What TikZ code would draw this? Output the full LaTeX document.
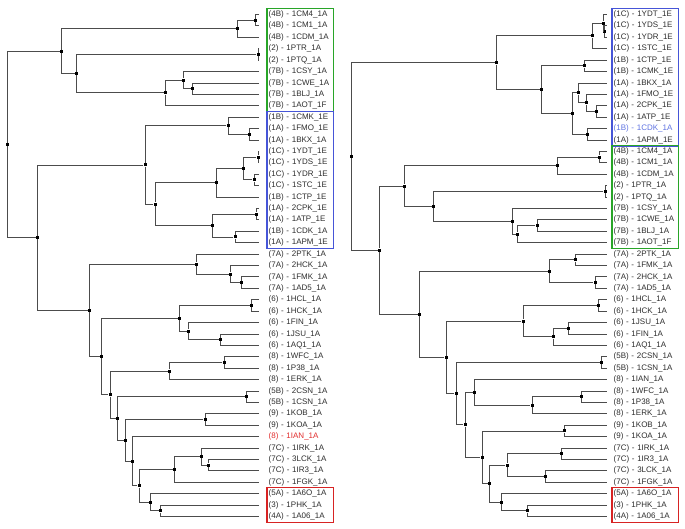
\documentclass[tikz,border=0pt]{standalone}
\usepackage{fontspec}
\setmainfont{Liberation Sans}
\usetikzlibrary{calc,fit}

\definecolor{txt}{RGB}{45,45,45}
\definecolor{hired}{RGB}{225,45,45}
\definecolor{hiblue}{RGB}{95,115,225}
\definecolor{boxgreen}{RGB}{40,165,40}
\definecolor{boxblue}{RGB}{70,85,215}
\definecolor{boxred}{RGB}{215,35,35}

\tikzset{
  leaf/.style={anchor=west, font=\fontsize{8}{9}\selectfont, inner xsep=1.5pt,
               inner ysep=0pt, minimum height=11.41pt, text width=63pt, align=left},
  jn/.style={rectangle, fill=black, inner sep=0pt, minimum size=3pt},
  branch/.style={black!70, line width=0.9pt},
  groupbox/.style={draw=#1, line width=1.3pt, inner sep=0pt}
}

% joins two children at depth x, halfway between them
\newcommand{\clade}[4]{
  \path let \p1=($(#3)!.5!(#4)$) in node[jn] (#1) at (#2,\y1) {};
  \draw[branch] (#3) -| (#1) |- (#4);
}

\begin{document}
\begin{tikzpicture}[x=1pt,y=-1pt]
\useasboundingbox (0,0) rectangle (685,529);

% Left tree leaves
\foreach \grp/\pdb/\tc [count=\i] in {4B/1CM4\_1A/txt, 4B/1CM1\_1A/txt, 4B/1CDM\_1A/txt,
  2/1PTR\_1A/txt, 2/1PTQ\_1A/txt, 7B/1CSY\_1A/txt, 7B/1CWE\_1A/txt, 7B/1BLJ\_1A/txt,
  7B/1AOT\_1F/txt, 1B/1CMK\_1E/txt, 1A/1FMO\_1E/txt, 1A/1BKX\_1A/txt, 1C/1YDT\_1E/txt,
  1C/1YDS\_1E/txt, 1C/1YDR\_1E/txt, 1C/1STC\_1E/txt, 1B/1CTP\_1E/txt, 1A/2CPK\_1E/txt,
  1A/1ATP\_1E/txt, 1B/1CDK\_1A/txt, 1A/1APM\_1E/txt, 7A/2PTK\_1A/txt, 7A/2HCK\_1A/txt,
  7A/1FMK\_1A/txt, 7A/1AD5\_1A/txt, 6/1HCL\_1A/txt, 6/1HCK\_1A/txt, 6/1FIN\_1A/txt,
  6/1JSU\_1A/txt, 6/1AQ1\_1A/txt, 8/1WFC\_1A/txt, 8/1P38\_1A/txt, 8/1ERK\_1A/txt,
  5B/2CSN\_1A/txt, 5B/1CSN\_1A/txt, 9/1KOB\_1A/txt, 9/1KOA\_1A/txt, 8/1IAN\_1A/hired,
  7C/1IRK\_1A/txt, 7C/3LCK\_1A/txt, 7C/1IR3\_1A/txt, 7C/1FGK\_1A/txt, 5A/1A6O\_1A/txt,
  3/1PHK\_1A/txt, 4A/1A06\_1A/txt}{
  \coordinate (tl\i) at (259,{14.5+(\i-1)*11.41});
  \node[leaf, text=\tc] (xl\i) at (267,{14.5+(\i-1)*11.41}) {(\grp) - \pdb};
}

% Right tree leaves
\foreach \grp/\pdb/\tc [count=\i] in {1C/1YDT\_1E/txt, 1C/1YDS\_1E/txt, 1C/1YDR\_1E/txt,
  1C/1STC\_1E/txt, 1B/1CTP\_1E/txt, 1B/1CMK\_1E/txt, 1A/1BKX\_1A/txt, 1A/1FMO\_1E/txt,
  1A/2CPK\_1E/txt, 1A/1ATP\_1E/txt, 1B/1CDK\_1A/hiblue, 1A/1APM\_1E/txt, 4B/1CM4\_1A/txt,
  4B/1CM1\_1A/txt, 4B/1CDM\_1A/txt, 2/1PTR\_1A/txt, 2/1PTQ\_1A/txt, 7B/1CSY\_1A/txt,
  7B/1CWE\_1A/txt, 7B/1BLJ\_1A/txt, 7B/1AOT\_1F/txt, 7A/2PTK\_1A/txt, 7A/1FMK\_1A/txt,
  7A/2HCK\_1A/txt, 7A/1AD5\_1A/txt, 6/1HCL\_1A/txt, 6/1HCK\_1A/txt, 6/1JSU\_1A/txt,
  6/1FIN\_1A/txt, 6/1AQ1\_1A/txt, 5B/2CSN\_1A/txt, 5B/1CSN\_1A/txt, 8/1IAN\_1A/txt,
  8/1WFC\_1A/txt, 8/1P38\_1A/txt, 8/1ERK\_1A/txt, 9/1KOB\_1A/txt, 9/1KOA\_1A/txt,
  7C/1IRK\_1A/txt, 7C/1IR3\_1A/txt, 7C/3LCK\_1A/txt, 7C/1FGK\_1A/txt, 5A/1A6O\_1A/txt,
  3/1PHK\_1A/txt, 4A/1A06\_1A/txt}{
  \coordinate (tr\i) at (606.7,{14.5+(\i-1)*11.41});
  \node[leaf, text=\tc] (xr\i) at (612,{14.5+(\i-1)*11.41}) {(\grp) - \pdb};
}

% Left tree: green group
\clade{lg1}{255.3}{tl1}{tl2}
\clade{lg2}{237.7}{lg1}{tl3}
\clade{lg3}{258}{tl4}{tl5}
\clade{lg4}{192.7}{tl7}{tl8}
\clade{lg5}{183.7}{tl6}{lg4}
\clade{lg6}{165.3}{lg5}{tl9}
\clade{lg7}{76.3}{lg3}{lg6}
\clade{lg8}{61.7}{lg2}{lg7}

% Left tree: blue group
\clade{lb1}{249.3}{tl11}{tl12}
\clade{lb2}{228}{tl10}{lb1}
\clade{lb3}{258}{tl13}{tl14}
\clade{lb4}{254}{tl15}{tl16}
\clade{lb5}{243.7}{lb3}{lb4}
\clade{lb6}{216.7}{lb5}{tl17}
\clade{lb7}{256.7}{tl18}{tl19}
\clade{lb8}{235}{tl20}{tl21}
\clade{lb9}{212.7}{lb7}{lb8}
\clade{lb10}{155}{lb6}{lb9}
\clade{lb11}{145}{lb2}{lb10}

% Left tree: the rest
\clade{la1}{241.3}{tl24}{tl25}
\clade{la2}{230.7}{tl23}{la1}
\clade{la3}{196.7}{tl22}{la2}
\clade{ls1}{251.7}{tl26}{tl27}
\clade{ls2}{220.3}{tl29}{tl30}
\clade{ls3}{188.3}{tl28}{ls2}
\clade{ls4}{179.3}{ls1}{ls3}
\clade{le1}{224}{tl31}{tl32}
\clade{le2}{169.3}{le1}{tl33}
\clade{lc1}{246.7}{tl34}{tl35}
\clade{lk1}{205}{tl36}{tl37}
\clade{lm1}{208.7}{tl40}{tl41}
\clade{lm2}{201.3}{tl39}{lm1}
\clade{lm3}{174.7}{lm2}{tl42}
\clade{lh1}{160.3}{tl44}{tl45}
\clade{lh2}{150.3}{tl43}{lh1}
\clade{lq1}{139}{lm3}{lh2}
\clade{lq2}{132.3}{tl38}{lq1}
\clade{lq3}{125.3}{lk1}{lq2}
\clade{lq4}{117.7}{lc1}{lq3}
\clade{lq5}{110}{le2}{lq4}
\clade{lq6}{101.7}{ls4}{lq5}
\clade{lq7}{89.3}{la3}{lq6}
\clade{lroot2}{37.3}{lb11}{lq7}
\clade{lroot}{7.3}{lg8}{lroot2}

% Right tree: blue group
\clade{rb1}{604.3}{tr2}{tr3}
\clade{rb2}{603.3}{tr1}{rb1}
\clade{rb3}{592.3}{rb2}{tr4}
\clade{rb4}{584.3}{tr5}{tr6}
\clade{rb5}{596.7}{tr9}{tr10}
\clade{rb6}{586.7}{tr8}{rb5}
\clade{rb7}{578.3}{tr7}{rb6}
\clade{rb8}{587.3}{tr11}{tr12}
\clade{rb9}{572.3}{rb7}{rb8}
\clade{rb10}{541.3}{rb4}{rb9}
\clade{rb11}{496.3}{rb3}{rb10}

% Right tree: green group
\clade{rg1}{599.7}{tr13}{tr14}
\clade{rg2}{557.7}{rg1}{tr15}
\clade{rg3}{605}{tr16}{tr17}
\clade{rg4}{537}{tr19}{tr20}
\clade{rg5}{517.7}{rg4}{tr21}
\clade{rg6}{512.3}{tr18}{rg5}
\clade{rg7}{433.7}{rg3}{rg6}
\clade{rg8}{404.3}{rg2}{rg7}

% Right tree: the rest
\clade{ra1}{575.3}{tr22}{tr23}
\clade{ra2}{595}{tr24}{tr25}
\clade{ra3}{549.3}{ra1}{ra2}
\clade{rs1}{598.3}{tr26}{tr27}
\clade{rs2}{568.7}{tr28}{tr29}
\clade{rs3}{553.3}{rs2}{tr30}
\clade{rs4}{523}{rs1}{rs3}
\clade{rc1}{601.3}{tr31}{tr32}
\clade{re1}{581.3}{tr34}{tr35}
\clade{re2}{532}{re1}{tr36}
\clade{re3}{474.3}{tr33}{re2}
\clade{rk1}{564.7}{tr37}{tr38}
\clade{rm1}{561.7}{tr39}{tr40}
\clade{rm2}{545.7}{tr41}{tr42}
\clade{rm3}{507}{rm1}{rm2}
\clade{rh1}{527.7}{tr44}{tr45}
\clade{rh2}{501.7}{tr43}{rh1}
\clade{rq1}{489.3}{rm3}{rh2}
\clade{rq2}{482}{rk1}{rq1}
\clade{rq3}{465}{re3}{rq2}
\clade{rq4}{456}{rc1}{rq3}
\clade{rq5}{446}{rs4}{rq4}
\clade{rq6}{419.3}{ra3}{rq5}
\clade{rq7}{379.3}{rg8}{rq6}
\clade{rroot}{351}{rb11}{rq7}

% Group boxes
\node[groupbox=boxgreen, fit=(xl1)(xl9)] (lgreen) {};
\node[groupbox=boxblue, fit=(xl10)(xl21)] (lblue) {};
\node[groupbox=boxred, fit=(xl43)(xl45)] (lred) {};
\node[groupbox=boxblue, fit=(xr1)(xr12)] (rblue) {};
\node[groupbox=boxgreen, fit=(xr13)(xr21)] (rgreen) {};
\node[groupbox=boxred, fit=(xr43)(xr45)] (rred) {};

\end{tikzpicture}
\end{document}
